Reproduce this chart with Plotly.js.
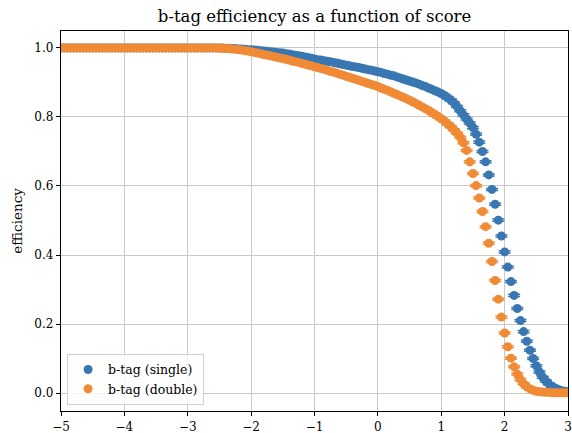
<!DOCTYPE html>
<html>
<head>
<meta charset="utf-8">
<script src="https://cdn.plot.ly/plotly-3.0.1.min.js"></script>
<style>html,body{margin:0;padding:0;background:#fff;}#chart{width:572px;height:433px;}</style>
</head>
<body>
<div id="chart"></div>
<script>
// score thresholds (x)
const score = [
-5.00,-4.95,-4.90,-4.85,-4.80,-4.75,-4.70,-4.65,-4.60,-4.55,
-4.50,-4.45,-4.40,-4.35,-4.30,-4.25,-4.20,-4.15,-4.10,-4.05,
-4.00,-3.95,-3.90,-3.85,-3.80,-3.75,-3.70,-3.65,-3.60,-3.55,
-3.50,-3.45,-3.40,-3.35,-3.30,-3.25,-3.20,-3.15,-3.10,-3.05,
-3.00,-2.95,-2.90,-2.85,-2.80,-2.75,-2.70,-2.65,-2.60,-2.55,
-2.50,-2.45,-2.40,-2.35,-2.30,-2.25,-2.20,-2.15,-2.10,-2.05,
-2.00,-1.95,-1.90,-1.85,-1.80,-1.75,-1.70,-1.65,-1.60,-1.55,
-1.50,-1.45,-1.40,-1.35,-1.30,-1.25,-1.20,-1.15,-1.10,-1.05,
-1.00,-0.95,-0.90,-0.85,-0.80,-0.75,-0.70,-0.65,-0.60,-0.55,
-0.50,-0.45,-0.40,-0.35,-0.30,-0.25,-0.20,-0.15,-0.10,-0.05,
0.00,0.05,0.10,0.15,0.20,0.25,0.30,0.35,0.40,0.45,
0.50,0.55,0.60,0.65,0.70,0.75,0.80,0.85,0.90,0.95,
1.00,1.05,1.10,1.15,1.20,1.25,1.30,1.35,1.40,1.45,
1.50,1.55,1.60,1.65,1.70,1.75,1.80,1.85,1.90,1.95,
2.00,2.05,2.10,2.15,2.20,2.25,2.30,2.35,2.40,2.45,
2.50,2.55,2.60,2.65,2.70,2.75,2.80,2.85,2.90,2.95,
3.00];

// b-tag (single) efficiency
const effSingle = [
1.000,1.000,1.000,1.000,1.000,1.000,1.000,1.000,1.000,1.000,
1.000,1.000,1.000,1.000,1.000,1.000,1.000,1.000,1.000,1.000,
1.000,1.000,1.000,1.000,1.000,1.000,1.000,1.000,1.000,1.000,
1.000,1.000,1.000,1.000,1.000,1.000,1.000,1.000,1.000,1.000,
1.000,1.000,1.000,1.000,1.000,1.000,1.000,1.000,1.000,1.000,
1.000,0.9995,0.999,0.999,0.998,0.998,0.997,0.997,0.996,0.995,
0.995,0.994,0.993,0.992,0.991,0.990,0.989,0.988,0.987,0.986,
0.985,0.983,0.982,0.980,0.979,0.977,0.976,0.974,0.972,0.970,
0.968,0.966,0.965,0.963,0.961,0.960,0.958,0.956,0.954,0.952,
0.950,0.948,0.946,0.945,0.943,0.941,0.939,0.937,0.935,0.933,
0.931,0.929,0.926,0.924,0.921,0.919,0.916,0.913,0.910,0.907,
0.904,0.901,0.898,0.895,0.891,0.888,0.884,0.880,0.876,0.872,
0.868,0.862,0.856,0.849,0.841,0.830,0.818,0.806,0.794,0.782,
0.769,0.750,0.727,0.700,0.670,0.632,0.590,0.547,0.501,0.455,
0.409,0.365,0.323,0.283,0.245,0.210,0.178,0.150,0.124,0.100,
0.079,0.061,0.046,0.035,0.026,0.019,0.014,0.010,0.007,0.005,
0.004];

// b-tag (double) efficiency
const effDouble = [
1.000,1.000,1.000,1.000,1.000,1.000,1.000,1.000,1.000,1.000,
1.000,1.000,1.000,1.000,1.000,1.000,1.000,1.000,1.000,1.000,
1.000,1.000,1.000,1.000,1.000,1.000,1.000,1.000,1.000,1.000,
1.000,1.000,1.000,1.000,1.000,1.000,1.000,1.000,1.000,1.000,
1.000,1.000,1.000,1.000,1.000,1.000,1.000,1.000,1.000,1.000,
0.999,0.999,0.998,0.998,0.997,0.996,0.995,0.994,0.992,0.991,
0.989,0.987,0.985,0.983,0.981,0.979,0.977,0.975,0.973,0.971,
0.969,0.967,0.965,0.962,0.960,0.958,0.955,0.953,0.950,0.948,
0.945,0.943,0.940,0.938,0.935,0.932,0.930,0.927,0.924,0.921,
0.918,0.915,0.912,0.909,0.906,0.903,0.900,0.897,0.894,0.891,
0.888,0.884,0.880,0.877,0.873,0.869,0.865,0.861,0.857,0.853,
0.848,0.844,0.839,0.834,0.829,0.824,0.819,0.813,0.807,0.801,
0.795,0.788,0.780,0.772,0.763,0.753,0.741,0.725,0.703,0.670,
0.636,0.601,0.565,0.526,0.482,0.434,0.381,0.326,0.272,0.220,
0.174,0.134,0.101,0.076,0.055,0.039,0.027,0.018,0.012,0.008,
0.005,0.004,0.003,0.002,0.002,0.001,0.001,0.001,0.001,0.001,
0.001];

const xTicks = [-5, -4, -3, -2, -1, 0, 1, 2, 3];
const yTicks = [0.0, 0.2, 0.4, 0.6, 0.8, 1.0];
const yTickText = ['0.0', '0.2', '0.4', '0.6', '0.8', '1.0'];

const FONT = 'DejaVu Serif, serif';
const BLUE = '#3977b2';
const ORANGE = '#f08a35';

function series(name, y, color) {
  return {
    type: 'scatter', mode: 'markers', name: name,
    x: score, y: y,
    marker: {color: color, size: 9, symbol: 'circle', line: {width: 0}},
    error_y: {type: 'constant', value: 0.003, color: color, thickness: 1.5, width: 6, visible: true}
  };
}

const data = [
  series('b-tag (single)', effSingle, BLUE),
  series('b-tag (double)', effDouble, ORANGE)
];

const axisCommon = {
  showline: true, mirror: true, linecolor: '#000', linewidth: 1.2,
  ticks: 'outside', ticklen: 4, tickwidth: 1, tickcolor: '#000',
  showgrid: true, gridcolor: '#c9c9c9', gridwidth: 1,
  zeroline: false,
  tickfont: {family: FONT, size: 12, color: '#000'}
};

const layout = {
  width: 572, height: 433,
  margin: {l: 61, r: 4, t: 31, b: 22},
  paper_bgcolor: '#fff', plot_bgcolor: '#fff',
  title: {text: 'b-tag efficiency as a function of score', font: {family: FONT, size: 16.5, color: '#000'},
          x: 0.5499, xanchor: 'center', y: 0.962, yanchor: 'middle'},
  xaxis: Object.assign({}, axisCommon, {range: [-5, 3], tickvals: xTicks}),
  yaxis: Object.assign({}, axisCommon, {range: [-0.052, 1.049], tickvals: yTicks, ticktext: yTickText,
          title: {text: 'efficiency', font: {family: FONT, size: 13.5, color: '#000'}, standoff: 8}}),
  showlegend: true,
  legend: {x: 0.012, y: 0.016, xanchor: 'left', yanchor: 'bottom',
           bgcolor: 'rgba(255,255,255,0.8)', bordercolor: '#d0d0d0', borderwidth: 1,
           font: {family: FONT, size: 12.5, color: '#000'}, tracegroupgap: 2}
};

Plotly.newPlot('chart', data, layout, {displayModeBar: false, staticPlot: true});
</script>
</body>
</html>
